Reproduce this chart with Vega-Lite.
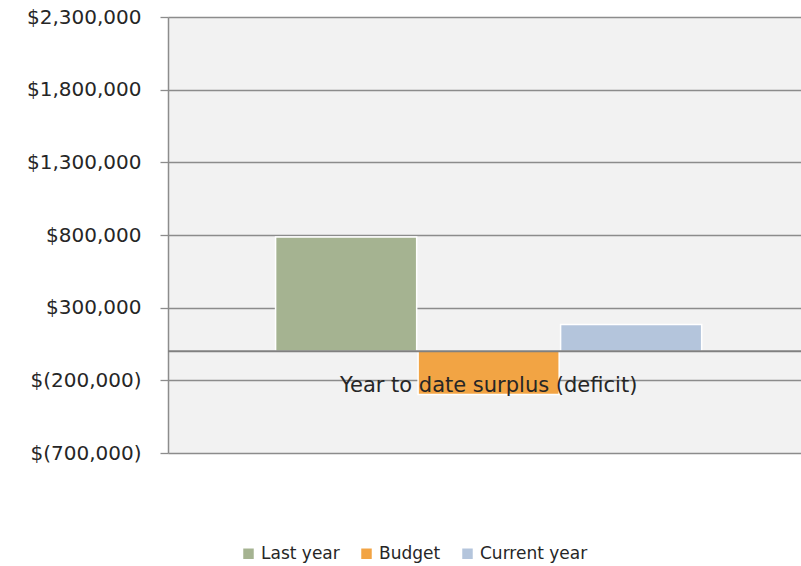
{
  "$schema": "https://vega.github.io/schema/vega-lite/v6.json",
  "width": 633,
  "height": 436,
  "autosize": "none",
  "padding": {"left": 168, "top": 17, "right": 0, "bottom": 113},
  "background": "white",
  "config": {"view": {"stroke": null, "fill": "#f2f2f2"}, "font": "DejaVu Sans"},
  "datasets": {
    "bars": [
      {"series": "Last year", "value": 786000},
      {"series": "Budget", "value": -298000},
      {"series": "Current year", "value": 184000}
    ],
    "labels": [
      {"series": "Budget", "value": 0, "label": "Year to date surplus (deficit)"}
    ],
    "zero": [{"v": 0}]
  },
  "layer": [
    {
      "data": {"name": "bars"},
      "mark": {"type": "bar", "stroke": "white", "strokeWidth": 1.5},
      "encoding": {
        "x": {
          "field": "series", "type": "nominal",
          "sort": ["Last year", "Budget", "Current year"],
          "scale": {"paddingInner": 0.01, "paddingOuter": 0.726, "align": 0.52},
          "axis": null
        },
        "y": {
          "field": "value", "type": "quantitative",
          "scale": {"domain": [-700000, 2300000], "nice": false, "zero": false},
          "axis": {
            "title": null,
            "values": [-700000, -200000, 300000, 800000, 1300000, 1800000, 2300000],
            "grid": true, "gridColor": "#8c8c8c", "gridWidth": 1.3,
            "domain": true, "domainColor": "#8c8c8c", "domainWidth": 1.5,
            "ticks": true, "tickSize": 8, "tickColor": "#8c8c8c", "tickWidth": 1.3,
            "labelPadding": 19, "labelFontSize": 20, "labelColor": "#262626",
            "labelExpr": "datum.value < 0 ? '$(' + format(-datum.value, ',') + ')' : '$' + format(datum.value, ',') + '\u00a0'"
          }
        },
        "color": {
          "field": "series", "type": "nominal",
          "scale": {"domain": ["Last year", "Budget", "Current year"], "range": ["#a5b391", "#f2a444", "#b4c5dc"]},
          "legend": {
            "title": null, "orient": "none", "direction": "horizontal",
            "legendX": 72, "legendY": 528,
            "symbolType": "square", "symbolSize": 110, "symbolStrokeWidth": 0,
            "labelFontSize": 17, "labelColor": "#262626", "columnPadding": 18
          }
        }
      }
    },
    {
      "data": {"name": "zero"},
      "mark": {"type": "rule", "color": "#808080", "strokeWidth": 2},
      "encoding": {"y": {"field": "v", "type": "quantitative"}}
    },
    {
      "data": {"name": "labels"},
      "mark": {"type": "text", "dy": 35, "fontSize": 21, "color": "#262626"},
      "encoding": {
        "x": {"field": "series", "type": "nominal", "sort": ["Last year", "Budget", "Current year"]},
        "y": {"field": "value", "type": "quantitative"},
        "text": {"field": "label"}
      }
    }
  ]
}
